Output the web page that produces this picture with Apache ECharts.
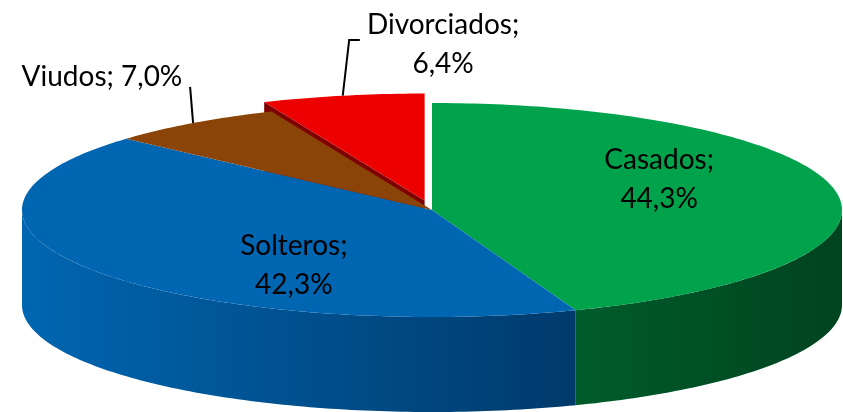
<!DOCTYPE html>
<html><head><meta charset="utf-8">
<script src="https://cdn.jsdelivr.net/npm/echarts@6/dist/echarts.min.js"></script>
<style>html,body{margin:0;padding:0;background:#fff;overflow:hidden}#c{width:843px;height:412px}</style>
</head><body><div id="c"></div>
<script>
// ---- data ----
const categories = ['Casados', 'Solteros', 'Viudos', 'Divorciados'];
const values = [44.3, 42.3, 7.0, 6.4];
const exploded = [0, 0, 0, 1];
const oneLineLabel = [false, false, true, false];

// ---- layout / style ----
const PIE = {cx: 432, cy: 210, rx: 410, ry: 107, depth: 95, explode: 0.09, startAngle: -90};
const topColors = ['#00A34B', '#0066B2', '#8B4408', '#EC0000'];
const sideColors = [['#005C2B', '#00431F'], ['#0066B1', '#003A6B'], ['#6B3406', '#5A2B05'], ['#7E0000', '#7E0000']];
// label centres in normalized pie units (u*rx, v*ry from centre)
const labelPos = [[0.554, -0.29], [-0.337, 0.523], [-0.805, -1.243], [0.027, -1.551]];
const leaderPts = [null, null, [[-0.590, -1.15]], [[-0.176, -1.589], [-0.202, -1.589]]];
const FONT = '28px Lato, "Open Sans", sans-serif';

const total = values.reduce((a, b) => a + b, 0);
const angles = [];
let acc = 0;
values.forEach(v => { const a0 = PIE.startAngle + acc / total * 360; acc += v; angles.push([a0, PIE.startAngle + acc / total * 360]); });

function offs(i) {
  if (!exploded[i]) return [0, 0];
  const m = (angles[i][0] + angles[i][1]) / 2 * Math.PI / 180;
  return [PIE.rx * PIE.explode * Math.cos(m), PIE.ry * PIE.explode * Math.sin(m)];
}
function pt(a, r, o, dy) {
  const t = a * Math.PI / 180;
  return [PIE.cx + o[0] + PIE.rx * r * Math.cos(t), PIE.cy + o[1] + PIE.ry * r * Math.sin(t) + (dy || 0)];
}
function arc(a0, a1, o, dy) {
  const n = Math.max(2, Math.ceil(Math.abs(a1 - a0)));
  const p = [];
  for (let k = 0; k <= n; k++) p.push(pt(a0 + (a1 - a0) * k / n, 1, o, dy));
  return p;
}
function grad(c) {
  return {type: 'linear', x: 0, y: 0, x2: 1, y2: 0, colorStops: [{offset: 0, color: c[0]}, {offset: 1, color: c[1]}]};
}

function radialWalls(params, api) {
  const i = params.dataIndex;
  if (!exploded[i]) return {type: 'group', children: []};
  const o = offs(i);
  const ch = [];
  [[angles[i][0], -90], [angles[i][1], 90]].forEach(([a, d]) => {
    if (Math.sin((a + d) * Math.PI / 180) > 0.01) {
      const c = pt(a, 0, o), r = pt(a, 1, o);
      ch.push({type: 'polygon', shape: {points: [c, r, [r[0], r[1] + PIE.depth], [c[0], c[1] + PIE.depth]]},
        style: {fill: sideColors[i][0]}});
    }
  });
  return {type: 'group', children: ch};
}
function curvedWalls(params, api) {
  const i = params.dataIndex;
  const o = offs(i);
  const a0 = Math.max(angles[i][0], 0), a1 = Math.min(angles[i][1], 180);
  if (a1 <= a0) return {type: 'group', children: []};
  const top = arc(a0, a1, o, 0), bot = arc(a0, a1, o, PIE.depth).reverse();
  return {type: 'polygon', shape: {points: top.concat(bot)}, style: {fill: grad(sideColors[i])}};
}
function tops(params, api) {
  const i = params.dataIndex;
  const o = offs(i);
  const pts = [pt(0, 0, o)].concat(arc(angles[i][0], angles[i][1], o, 0));
  return {type: 'polygon', shape: {points: pts}, style: {fill: topColors[i]}};
}
function labels(params, api) {
  const i = params.dataIndex;
  const v = api.value(0);
  const txt = categories[i] + ';' + (oneLineLabel[i] ? ' ' : '\n') + v.toFixed(1).replace('.', ',') + '%';
  const ch = [{type: 'text', style: {text: txt, x: PIE.cx + labelPos[i][0] * PIE.rx, y: PIE.cy + labelPos[i][1] * PIE.ry,
    align: 'center', verticalAlign: 'middle', font: FONT, lineHeight: 39, fill: '#000'}}];
  if (leaderPts[i]) {
    const o = offs(i);
    const pts = leaderPts[i].map(p => [PIE.cx + p[0] * PIE.rx, PIE.cy + p[1] * PIE.ry]);
    pts.push(pt((angles[i][0] + angles[i][1]) / 2, 1, o));
    ch.push({type: 'polyline', shape: {points: pts}, style: {stroke: '#000', lineWidth: 2, fill: null}});
  }
  return {type: 'group', children: ch};
}

const data = values.map((v, i) => ({name: categories[i], value: [v, i]}));
const chart = echarts.init(document.getElementById('c'), null, {renderer: 'canvas'});
chart.setOption({
  animation: false,
  tooltip: {show: false},
  series: [
    {type: 'custom', coordinateSystem: 'none', z: 1, silent: true, data: data, renderItem: radialWalls},
    {type: 'custom', coordinateSystem: 'none', z: 2, silent: true, data: data, renderItem: curvedWalls},
    {type: 'custom', coordinateSystem: 'none', z: 3, silent: true, data: data, renderItem: tops},
    {type: 'custom', coordinateSystem: 'none', z: 4, silent: true, data: data, renderItem: labels}
  ]
});
</script></body></html>
